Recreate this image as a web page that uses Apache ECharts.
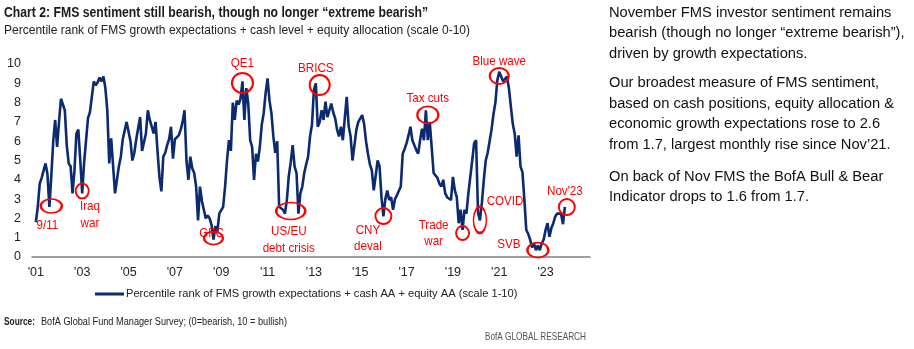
<!DOCTYPE html>
<html><head><meta charset="utf-8">
<script src="https://cdn.jsdelivr.net/npm/echarts@6/dist/echarts.min.js"></script>
<style>html,body{margin:0;padding:0;background:#fff}#c{width:914px;height:349px}</style>
</head><body><div id="c"></div>
<script>
// Monthly values Jan 2001 .. Nov 2023
const v2001 = [1.8, 2.6, 3.8, 4.1, 4.2, 4.85, 4.3, 2.6, 4.2, 6.0, 7.1, 5.7];
const v2002 = [7.0, 8.2, 7.9, 7.6, 5.8, 4.85, 4.7, 3.3, 4.5, 6.4, 6.6, 5.0];
const v2003 = [3.3, 4.9, 4.85, 7.2, 7.5, 7.6, 9.1, 8.9, 9.05, 9.3, 9.1, 9.35];
const v2004 = [8.75, 7.6, 4.85, 6.15, 6.1, 3.3, 4.0, 4.7, 5.2, 6.1, 6.0, 7.0];
const v2005 = [7.05, 6.0, 5.0, 5.4, 6.1, 6.1, 7.25, 5.5, 5.5, 6.4, 7.6, 7.1];
const v2006 = [7.1, 6.4, 7.0, 5.5, 4.15, 3.4, 5.2, 5.4, 5.8, 6.1, 6.75, 5.1];
const v2007 = [6.1, 6.2, 6.3, 6.6, 7.0, 7.6, 5.0, 4.0, 5.2, 4.6, 4.35, 3.65];
const v2008 = [1.9, 3.65, 2.9, 2.45, 2.0, 2.15, 2.0, 1.65, 0.9, 1.6, 1.3, 2.25];
const v2009 = [2.3, 2.6, 3.65, 5.0, 6.05, 5.5, 8.0, 7.1, 8.1, 7.9, 8.2, 9.1];
const v2010 = [7.1, 8.75, 7.95, 6.05, 5.7, 4.0, 5.35, 4.95, 5.7, 6.85, 7.45, 8.5];
const v2011 = [9.25, 8.1, 7.45, 6.25, 5.4, 6.0, 2.6, 2.5, 2.45, 2.25, 2.95, 4.2];
const v2012 = [4.9, 5.8, 4.7, 4.35, 2.25, 3.3, 3.65, 4.35, 4.8, 5.2, 6.25, 6.85];
const v2013 = [8.65, 9.0, 6.75, 7.0, 7.6, 7.1, 8.05, 7.25, 7.6, 7.95, 7.5, 7.2];
const v2014 = [6.6, 6.25, 6.75, 6.05, 7.2, 8.3, 6.8, 6.25, 5.0, 5.8, 6.6, 7.0];
const v2015 = [7.1, 7.35, 6.9, 6.0, 5.35, 4.8, 4.5, 3.45, 4.2, 5.0, 4.7, 3.1];
const v2016 = [2.1, 3.0, 3.45, 2.95, 3.1, 2.45, 3.0, 3.2, 3.3, 3.65, 5.35, 5.6];
const v2017 = [5.9, 6.3, 6.75, 6.05, 6.15, 5.55, 5.35, 6.05, 6.65, 6.05, 7.6, 6.05];
const v2018 = [7.0, 5.7, 4.35, 4.35, 4.1, 3.8, 3.65, 4.0, 3.3, 3.1, 3.0, 2.95];
const v2019 = [4.15, 3.45, 3.1, 1.75, 2.45, 1.4, 2.45, 2.25, 3.3, 3.3, 5.0, 5.9];
const v2020 = [6.05, 2.3, 1.9, 2.8, 4.0, 5.0, 5.4, 6.0, 6.6, 7.4, 8.0, 9.15];
const v2021 = [9.6, 9.5, 9.1, 9.0, 9.35, 8.75, 7.8, 6.9, 6.4, 5.2, 6.3, 4.7];
const v2022 = [4.4, 3.0, 1.4, 1.2, 0.9, 0.5, 0.7, 0.35, 0.6, 0.35, 0.7, 0.9];
const v2023 = [1.4, 1.75, 1.05, 1.5, 1.75, 2.1, 2.25, 2.2, 2.25, 1.7, 2.6];

const tickLabels = ["'01","'03","'05","'07","'09","'11","'13","'15","'17","'19","'21","'23"];
const yTicks = [0,1,2,3,4,5,6,7,8,9,10];

// events: label, month index from Jan 2001, value of the circled point
const eventNames  = ['9/11','Iraq\nwar','GFC','QE1','US/EU\ndebt crisis','BRICS','CNY\ndeval','Tax cuts','Trade\nwar','COVID','Blue wave','SVB',"Nov'23"];
const eventMonths = [8, 24, 92, 107, 132, 147, 180, 203, 221, 230, 240, 260, 275];
const eventValues = [2.64, 3.42, 0.98, 9.02, 2.38, 8.91, 2.12, 7.36, 1.24, 1.92, 9.38, 0.36, 2.59];
// where each event's text sits (month index, value)
const labelMonths = [6, 28, 91, 107, 131, 145, 172, 203, 206, 243, 240, 245, 274];
const labelValues = [1.66, 2.18, 1.24, 10.05, 0.9, 9.79, 0.96, 8.24, 1.22, 2.9, 10.13, 0.65, 3.42];

const seriesName = 'Percentile rank of FMS growth expectations + cash AA + equity AA (scale 1-10)';

const values = [].concat(v2001,v2002,v2003,v2004,v2005,v2006,v2007,v2008,v2009,v2010,v2011,v2012,v2013,v2014,v2015,v2016,v2017,v2018,v2019,v2020,v2021,v2022,v2023);

// category axis: Nov 2000 .. Dec 2024
const cats = [];
for (let y = 2000; y <= 2024; y++) for (let m = 1; m <= 12; m++) {
  if (y === 2000 && m < 11) continue;
  cats.push(y + '-' + String(m).padStart(2,'0'));
}
const OFF = 2; // index of Jan 2001
const data = cats.map((c, i) => { const k = i - OFF; return (k >= 0 && k < values.length) ? values[k] : null; });

const FF = '"Liberation Sans",Arial,sans-serif';
const RED = '#ff0000';
const cv = document.createElement('canvas').getContext('2d');
function tw(text, fs, fw) { cv.font = (fw || 'normal') + ' ' + fs + 'px "Liberation Sans"'; return cv.measureText(text).width; }
// condensed text: scale horizontally to a target width
function fitText(text, x, y, w, fs, fw, fill) {
  return {type:'text', x:x, y:y, scaleX: w / tw(text, fs, fw), silent:true, z:10,
    style:{text:text, fontSize:fs, fontWeight:fw, fontFamily:FF, fill:fill, align:'left', verticalAlign:'middle'}};
}

const circleSize = [[21,14],[13,15],[19,13],[21,20],[29,17],[20,20],[16,16],[21,17],[13,14],[13,26],[19,16],[21,15],[16,16]];
const mp = eventNames.map((n, i) => ({coord:[eventMonths[i]+OFF, eventValues[i]], symbol:'circle', symbolSize:circleSize[i],
    itemStyle:{color:'rgba(0,0,0,0)', borderColor:RED, borderWidth:2}, label:{show:false}}));

const legendFs = 12.5 * 392 / tw(seriesName, 12.5, 'normal');

const chart = echarts.init(document.getElementById('c'), null, {renderer:'canvas'});
chart.setOption({
  animation:false,
  backgroundColor:'#fff',
  title:[
    {text:'November FMS investor sentiment remains\nbearish (though no longer \u201cextreme bearish\u201d),\ndriven by growth expectations.',
      left:609, top:2.5, padding:0, textStyle:{fontSize:14.7, fontWeight:'normal', color:'#111', lineHeight:20.5, fontFamily:FF}},
    {text:'Our broadest measure of FMS sentiment,\nbased on cash positions, equity allocation &\neconomic growth expectations rose to 2.6\nfrom 1.7, largest monthly rise since Nov\u201921.',
      left:609, top:73, padding:0, textStyle:{fontSize:14.7, fontWeight:'normal', color:'#111', lineHeight:20.5, fontFamily:FF}},
    {text:'On back of Nov FMS the BofA Bull & Bear\nIndicator drops to 1.6 from 1.7.',
      left:609, top:166.5, padding:0, textStyle:{fontSize:14.7, fontWeight:'normal', color:'#111', lineHeight:20.5, fontFamily:FF}}
  ],
  legend:{data:[seriesName], left:95, top:288.5, padding:0, icon:'rect', itemWidth:29, itemHeight:3,
    textStyle:{fontSize:legendFs, color:'#222', fontFamily:FF, padding:[0,0,0,-3]}},
  grid:{left:32, right:324, top:64, bottom:92, containLabel:false},
  xAxis:{type:'category', data:cats, boundaryGap:false,
    axisLine:{lineStyle:{color:'#808080', width:1.5}},
    axisTick:{show:false},
    axisLabel:{margin:9, fontSize:12.5, color:'#222', fontFamily:FF,
      interval:(i, v) => v.endsWith('-01') && (parseInt(v.slice(0,4)) % 2 === 1),
      formatter:(v) => { const lbl = "'" + v.slice(2,4); return tickLabels.includes(lbl) ? lbl : ''; }},
    splitLine:{show:false}},
  yAxis:{type:'value', min:yTicks[0], max:yTicks[yTicks.length-1], interval:1,
    axisLine:{show:false}, axisTick:{show:false}, splitLine:{show:false},
    axisLabel:{margin:11, fontSize:12.5, color:'#222', fontFamily:FF}},
  series:[{name:seriesName, type:'line', data:data, symbol:'none', connectNulls:false,
    lineStyle:{color:'#0b2a6f', width:2.6}, itemStyle:{color:'#0b2a6f'},
    markPoint:{silent:true, data:mp, animation:false}}]
});

// texts placed through the chart's own scales / layout
const gr = [];
gr.push(fitText('Chart 2: FMS sentiment still bearish, though no longer \u201cextreme bearish\u201d', 4, 12.7, 424, 14.5, 'bold', '#1a1a1a'));
gr.push(fitText('Percentile rank of FMS growth expectations + cash level + equity allocation (scale 0-10)', 4, 30.7, 466, 13, 'normal', '#222'));
gr.push(fitText('Source:', 4, 322, 31, 10.5, 'bold', '#222'));
gr.push(fitText('BofA Global Fund Manager Survey; (0=bearish, 10 = bullish)', 41, 322, 246, 10.5, 'normal', '#222'));
gr.push(fitText('BofA GLOBAL RESEARCH', 485, 337, 101, 10.5, 'normal', '#555'));
eventNames.forEach((n, i) => {
  const p = chart.convertToPixel({gridIndex:0}, [labelMonths[i]+OFF, labelValues[i]]);
  gr.push({type:'text', x:p[0], y:p[1], scaleX:0.86, silent:true, z:10,
    style:{text:n, fontSize:13.5, fontFamily:FF, fill:RED, align:'center', verticalAlign:'middle', lineHeight:16.5}});
});
chart.setOption({graphic:gr});
</script></body></html>
